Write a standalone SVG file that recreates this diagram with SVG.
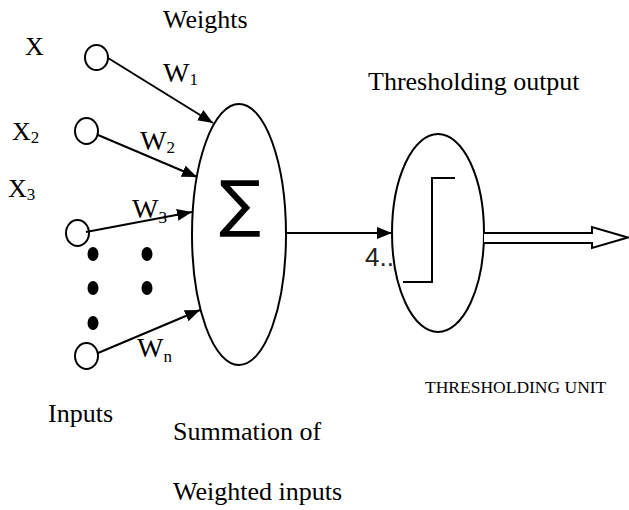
<svg xmlns="http://www.w3.org/2000/svg" width="629" height="510" viewBox="0 0 629 510">
<defs>
<marker id="ah" markerUnits="userSpaceOnUse" markerWidth="16" markerHeight="14" refX="15" refY="6" orient="auto"><path d="M0,0 L15,6 L0,12 Z" fill="#000"/></marker>
</defs>
<style>
.t{font-family:"Liberation Serif","Times New Roman",serif;font-size:26px;fill:#000}
.w{font-size:28px}
.sub{font-size:17px}
.ln{stroke:#000;stroke-width:2;fill:none}
.nd{fill:#fff;stroke:#000;stroke-width:2}
.dot{fill:#000}
</style>
<rect width="629" height="510" fill="#fff"/>
<g id="labels">
<text class="t" x="163" y="28">Weights</text>
<text class="t" x="368" y="90">Thresholding output</text>
<text class="t" x="25" y="55">X</text>
<text class="t" x="12" y="140">X<tspan class="sub" dy="3">2</tspan></text>
<text class="t" x="8" y="197">X<tspan class="sub" dy="3">3</tspan></text>
<text class="t" x="48" y="422">Inputs</text>
<text class="t" x="173" y="440">Summation of</text>
<text class="t" x="173" y="500">Weighted inputs</text>
<text class="t" x="425" y="393" style="font-size:17.5px">THRESHOLDING UNIT</text>
</g>
<g id="input1"><ellipse class="nd" cx="96.5" cy="57.5" rx="11.5" ry="12.5"/></g>
<g id="input2"><ellipse class="nd" cx="86.5" cy="131" rx="11.5" ry="13"/></g>
<g id="input3"><ellipse class="nd" cx="77.5" cy="233" rx="11.5" ry="13"/></g>
<g id="inputn"><ellipse class="nd" cx="86.5" cy="356" rx="11.5" ry="13"/></g>
<g id="dots">
<ellipse class="dot" cx="93" cy="254" rx="5.5" ry="7"/>
<ellipse class="dot" cx="93" cy="288" rx="5.5" ry="7"/>
<ellipse class="dot" cx="93" cy="323" rx="5.5" ry="7"/>
<ellipse class="dot" cx="147" cy="254" rx="5.5" ry="7"/>
<ellipse class="dot" cx="147" cy="288" rx="5.5" ry="7"/>
</g>
<g id="summation">
<ellipse class="nd" cx="239" cy="234.5" rx="47" ry="130.5"/>
<text x="240" y="225" text-anchor="middle" style="font-family:'DejaVu Sans',sans-serif;font-size:62px">∑</text>
</g>
<text x="365" y="266" style="font-family:'Liberation Sans',Arial,sans-serif;font-size:26px;fill:#222">4..</text>
<g id="threshold">
<ellipse class="nd" cx="438" cy="233" rx="46" ry="99"/>
<path class="ln" d="M403,282 H432 V178 H455"/>
</g>
<g id="connectors">
<line class="ln" x1="108" y1="58" x2="213" y2="123" marker-end="url(#ah)"/>
<line class="ln" x1="98" y1="135" x2="197" y2="177" marker-end="url(#ah)"/>
<line class="ln" x1="86" y1="232" x2="192" y2="212" marker-end="url(#ah)"/>
<line class="ln" x1="98" y1="353" x2="200" y2="310" marker-end="url(#ah)"/>
<line class="ln" x1="286" y1="233" x2="392" y2="233" marker-end="url(#ah)"/>
<path d="M484,233 H592 V227 L628,237.5 L592,248 V243 H484" fill="#fff" stroke="#000" stroke-width="2"/>
</g>
<g id="weight-labels">
<text class="t w" x="163" y="82">W<tspan class="sub" dy="3">1</tspan></text>
<text class="t w" x="140" y="150">W<tspan class="sub" dy="3">2</tspan></text>
<text class="t w" x="132" y="218">W<tspan class="sub" dy="5">3</tspan></text>
<text class="t w" x="137" y="357">W<tspan class="sub" dy="5">n</tspan></text>
</g>
</svg>
